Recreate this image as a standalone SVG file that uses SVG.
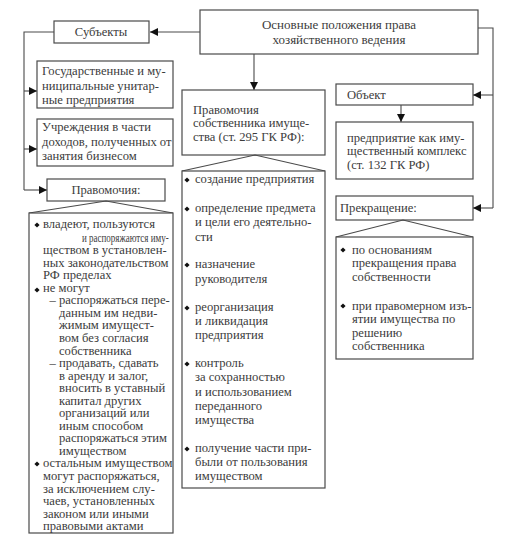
<svg xmlns="http://www.w3.org/2000/svg" width="517" height="541" viewBox="0 0 517 541">
<defs>
<style>
.box{fill:#fff;stroke:#4a4a4a;stroke-width:1.2}
.ln{fill:none;stroke:#4a4a4a;stroke-width:1.1}
.t{font-family:"Liberation Serif","Times New Roman",serif;font-size:12.6px;fill:#3c3c3c}
.h{font-size:13px}
.c{text-anchor:middle}
.b{fill:#111}
</style>
<marker id="ah" viewBox="0 0 10 10" refX="10" refY="5" markerWidth="8" markerHeight="8" markerUnits="userSpaceOnUse" orient="auto">
<path d="M0,0 L10,5 L0,10 Z" fill="#111"/>
</marker>
<path id="dm" d="M0,-2.6 L2.6,0 L0,2.6 L-2.6,0 Z"/>
</defs>
<rect width="517" height="541" fill="#fff"/>

<g id="connectors">
<path class="ln" d="M200,32 H150" marker-end="url(#ah)"/>
<path class="ln" d="M54,32 H24 V190"/>
<path class="ln" d="M24,91 H37" marker-end="url(#ah)"/>
<path class="ln" d="M24,149 H37" marker-end="url(#ah)"/>
<path class="ln" d="M24,190 H47" marker-end="url(#ah)"/>
<path class="ln" d="M254,54 V90" marker-end="url(#ah)"/>
<path class="ln" d="M478,28 H493 V208"/>
<path class="ln" d="M493,95 H473" marker-end="url(#ah)"/>
<path class="ln" d="M493,208 H473" marker-end="url(#ah)"/>
<path class="ln" d="M401,105 V122" marker-end="url(#ah)"/>
</g>

<g id="main">
<rect class="box" x="200" y="10" width="278" height="44"/>
<text class="t h c" x="339" y="29">Основные положения права</text>
<text class="t h c" x="339" y="44">хозяйственного ведения</text>
</g>

<g id="subjects">
<rect class="box" x="54" y="21" width="95" height="22"/>
<text class="t c" x="101" y="36">Субъекты</text>
</g>

<g id="unitary">
<rect class="box" x="37" y="61" width="136" height="47"/>
<text class="t" x="42" y="75">Государственные и му-</text>
<text class="t" x="42" y="90">ниципальные унитар-</text>
<text class="t" x="42" y="104">ные предприятия</text>
</g>

<g id="institutions">
<rect class="box" x="37" y="119" width="136" height="47"/>
<text class="t" x="42" y="131">Учреждения в части</text>
<text class="t" x="42" y="146">доходов, полученных от</text>
<text class="t" x="42" y="160">занятия бизнесом</text>
</g>

<g id="powers-head">
<rect class="box" x="47" y="179" width="118" height="22"/>
<text class="t c" x="106" y="194">Правомочия:</text>
</g>

<g id="powers-list">
<path class="ln" d="M29,213 L106,201 L173,213"/>
<rect class="box" x="29" y="213" width="144" height="320"/>
<use href="#dm" class="b" x="37" y="225"/>
<use href="#dm" class="b" x="37" y="290"/>
<use href="#dm" class="b" x="37" y="464"/>
<text class="t" x="43" y="228">владеют, пользуются</text>
<text class="t" style="font-size:12px" transform="translate(82,241.5) scale(0.75,1)">и распоряжаются иму-</text>
<text class="t">
<tspan x="43" y="254.1">ществом в установлен-</tspan>
<tspan x="43" y="266.7">ных законодательством</tspan>
<tspan x="43" y="279.2">РФ пределах</tspan>
<tspan x="43" y="291.8">не могут</tspan>
<tspan x="49.5" y="304.3">– распоряжаться пере-</tspan>
<tspan x="59" y="316.8">данным им недви-</tspan>
<tspan x="59" y="329.4">жимым имущест-</tspan>
<tspan x="59" y="342">вом без согласия</tspan>
<tspan x="59" y="354.5">собственника</tspan>
<tspan x="49.5" y="367">– продавать, сдавать</tspan>
<tspan x="59" y="379.6">в аренду и залог,</tspan>
<tspan x="59" y="392.2">вносить в уставный</tspan>
<tspan x="59" y="404.7">капитал других</tspan>
<tspan x="59" y="417.2">организаций или</tspan>
<tspan x="59" y="429.8">иным способом</tspan>
<tspan x="59" y="442.3">распоряжаться этим</tspan>
<tspan x="59" y="454.9">имуществом</tspan>
<tspan x="43" y="467.4">остальным имуществом</tspan>
<tspan x="43" y="480">могут распоряжаться,</tspan>
<tspan x="43" y="492.5">за исключением слу-</tspan>
<tspan x="43" y="505">чаев, установленных</tspan>
<tspan x="43" y="517.6">законом или иными</tspan>
<tspan x="43" y="530.2">правовыми актами</tspan>
</text>
</g>

<g id="owner-head">
<rect class="box" x="182" y="90" width="143" height="65"/>
<text class="t" x="193" y="114">Правомочия</text>
<text class="t" x="193" y="127">собственника имуще-</text>
<text class="t" x="193" y="140.5">ства (ст. 295 ГК РФ):</text>
</g>

<g id="owner-list">
<path class="ln" d="M182,171 L255,155 L325,171"/>
<rect class="box" x="182" y="171" width="143" height="317"/>
<use href="#dm" class="b" x="187" y="180"/>
<use href="#dm" class="b" x="187" y="209"/>
<use href="#dm" class="b" x="187" y="265"/>
<use href="#dm" class="b" x="187" y="308"/>
<use href="#dm" class="b" x="187" y="364"/>
<use href="#dm" class="b" x="187" y="449"/>
<text class="t" x="195" y="183">создание предприятия</text>
<text class="t"><tspan x="195" y="212">определение предмета</tspan><tspan x="195" y="226">и цели его деятельно-</tspan><tspan x="195" y="240.5">сти</tspan></text>
<text class="t"><tspan x="195" y="268">назначение</tspan><tspan x="195" y="282.5">руководителя</tspan></text>
<text class="t"><tspan x="195" y="311">реорганизация</tspan><tspan x="195" y="325">и ликвидация</tspan><tspan x="195" y="339">предприятия</tspan></text>
<text class="t"><tspan x="195" y="367">контроль</tspan><tspan x="195" y="381">за сохранностью</tspan><tspan x="195" y="395.5">и использованием</tspan><tspan x="195" y="409.5">переданного</tspan><tspan x="195" y="423.5">имущества</tspan></text>
<text class="t"><tspan x="195" y="452">получение части при-</tspan><tspan x="195" y="466">были от пользования</tspan><tspan x="195" y="480">имуществом</tspan></text>
</g>

<g id="object">
<rect class="box" x="336" y="84" width="137" height="21"/>
<text class="t" x="347" y="99">Объект</text>
</g>

<g id="complex">
<rect class="box" x="336" y="122" width="137" height="57"/>
<text class="t" x="347" y="141.5">предприятие как иму-</text>
<text class="t" x="347" y="155">щественный комплекс</text>
<text class="t" x="347" y="168.5">(ст. 132 ГК РФ)</text>
</g>

<g id="termination-head">
<rect class="box" x="336" y="196" width="137" height="24"/>
<text class="t" x="340" y="212">Прекращение:</text>
</g>

<g id="termination-list">
<path class="ln" d="M336,237 L403,220 L473,237"/>
<rect class="box" x="336" y="237" width="137" height="122"/>
<use href="#dm" class="b" x="343" y="250"/>
<use href="#dm" class="b" x="343" y="306"/>
<text class="t"><tspan x="352" y="253.5">по основаниям</tspan><tspan x="352" y="267">прекращения права</tspan><tspan x="352" y="280.5">собственности</tspan></text>
<text class="t"><tspan x="352" y="309.5">при правомерном изъ-</tspan><tspan x="352" y="323">ятии имущества по</tspan><tspan x="352" y="336.5">решению</tspan><tspan x="352" y="350">собственника</tspan></text>
</g>
</svg>
